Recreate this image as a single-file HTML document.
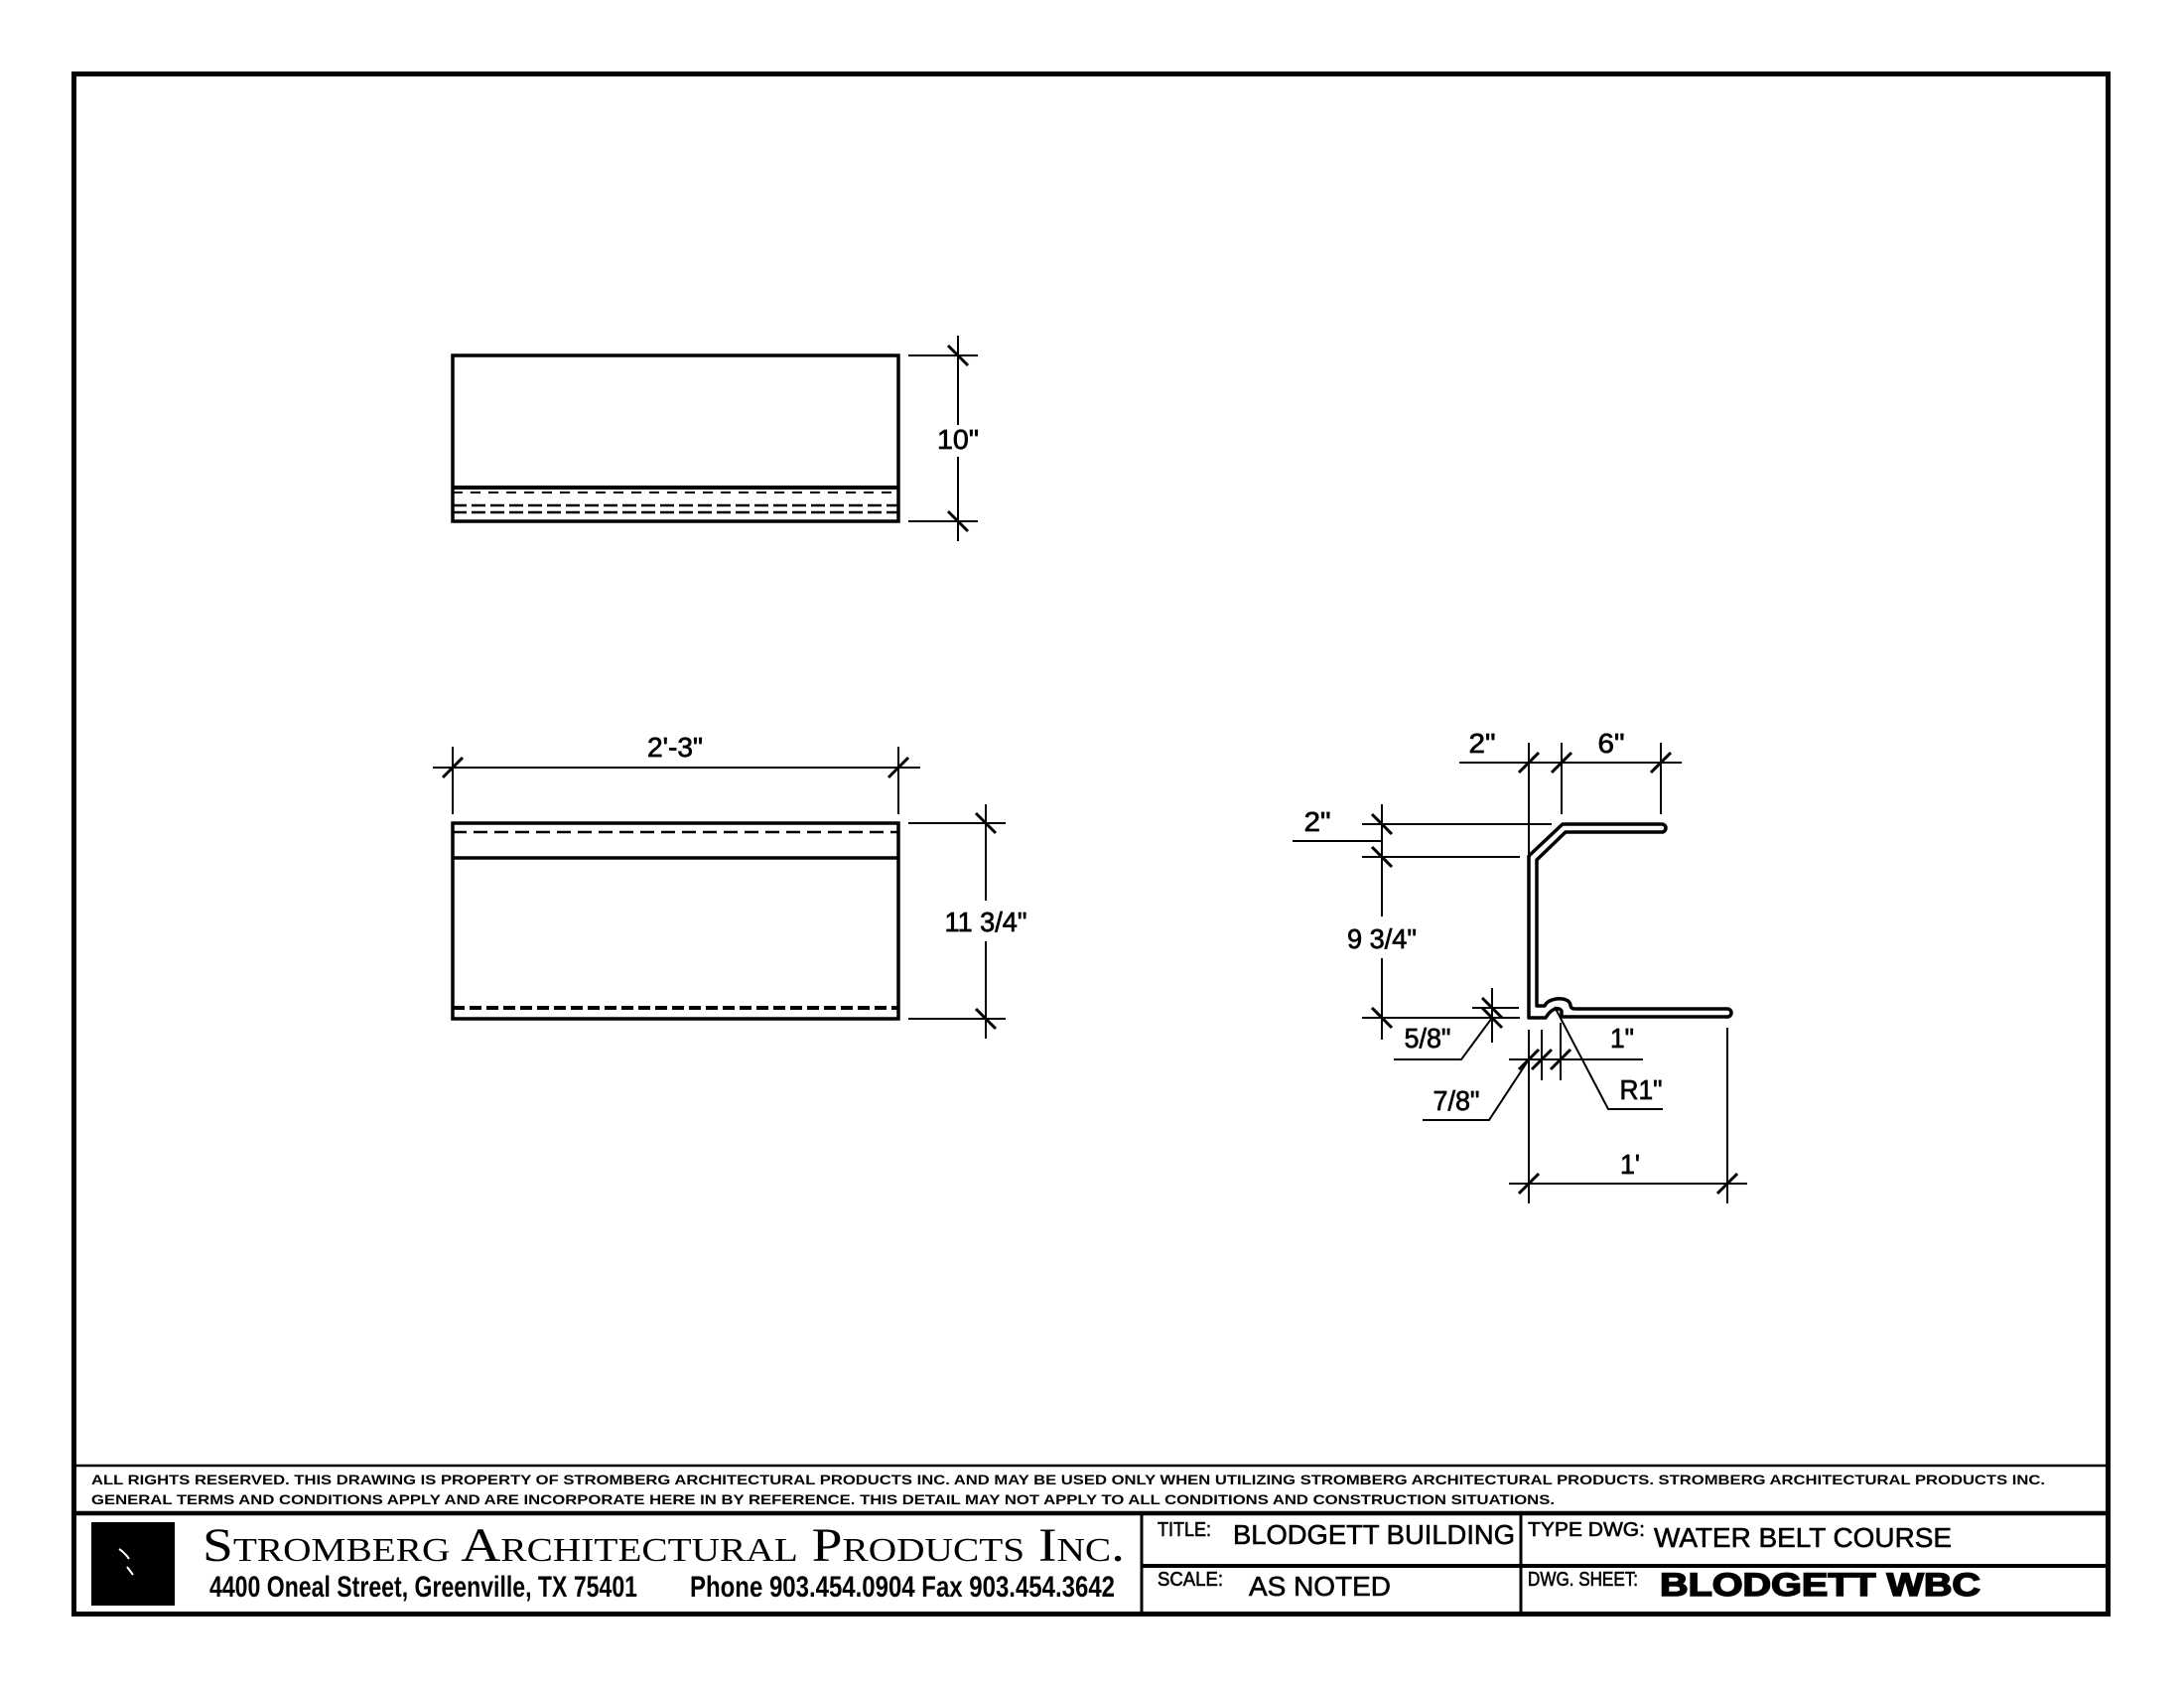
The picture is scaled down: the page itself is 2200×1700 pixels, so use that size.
<!DOCTYPE html>
<html><head><meta charset="utf-8"><style>html,body{margin:0;padding:0;background:#fff}svg{display:block}</style></head>
<body>
<svg width="2200" height="1700" viewBox="0 0 2200 1700" xmlns="http://www.w3.org/2000/svg" font-family="Liberation Sans, Arial, sans-serif">
<rect x="0" y="0" width="2200" height="1700" fill="#fff"/>
<rect x="74.5" y="74.5" width="2049" height="1551" fill="none" stroke="#000" stroke-width="5"/>

<g stroke="#000" fill="none" stroke-linecap="butt">
<rect x="456" y="358" width="449" height="167" stroke-width="3.5"/>
<line x1="456" y1="491" x2="905" y2="491" stroke-width="4"/>
<line x1="456" y1="496" x2="905" y2="496" stroke-width="2" stroke-dasharray="10,8"/>
<line x1="456" y1="509" x2="905" y2="509" stroke-width="2.5" stroke-dasharray="14,5"/>
<line x1="456" y1="516" x2="905" y2="516" stroke-width="2.5" stroke-dasharray="14,5"/>
<line x1="915" y1="358" x2="985" y2="358" stroke-width="2"/>
<line x1="915" y1="525" x2="985" y2="525" stroke-width="2"/>
<line x1="965" y1="338" x2="965" y2="428" stroke-width="2"/>
<line x1="965" y1="460" x2="965" y2="545" stroke-width="2"/>
<line x1="955" y1="348" x2="975" y2="368" stroke-width="3"/>
<line x1="955" y1="515" x2="975" y2="535" stroke-width="3"/>

<rect x="456" y="829" width="449" height="197" stroke-width="3.5"/>
<line x1="456" y1="838" x2="905" y2="838" stroke-width="2.5" stroke-dasharray="14,7"/>
<line x1="456" y1="864" x2="905" y2="864" stroke-width="3.5"/>
<line x1="456" y1="1015" x2="905" y2="1015" stroke-width="4" stroke-dasharray="12,5"/>
<line x1="436" y1="773" x2="927" y2="773" stroke-width="2"/>
<line x1="456" y1="752" x2="456" y2="820" stroke-width="2"/>
<line x1="905" y1="752" x2="905" y2="820" stroke-width="2"/>
<line x1="446" y1="783" x2="466" y2="763" stroke-width="3"/>
<line x1="895" y1="783" x2="915" y2="763" stroke-width="3"/>
<line x1="915" y1="829" x2="1013" y2="829" stroke-width="2"/>
<line x1="915" y1="1026" x2="1013" y2="1026" stroke-width="2"/>
<line x1="993" y1="810" x2="993" y2="907" stroke-width="2"/>
<line x1="993" y1="948" x2="993" y2="1046" stroke-width="2"/>
<line x1="983" y1="819" x2="1003" y2="839" stroke-width="3"/>
<line x1="983" y1="1016" x2="1003" y2="1036" stroke-width="3"/>

<path d="M1540,1025 V862 L1574,830 H1674 A4,4 0 0 1 1674,838 H1577 L1548,866 V1013 H1556 C1558,1008 1566,1005 1574,1006 C1580,1007 1582,1010 1582,1013 C1583,1016 1585,1016 1588,1016 H1740 A4,4 0 0 1 1740,1024 H1573 L1573,1018 C1570,1014 1563,1015 1557,1025 Z" stroke-width="3.5" stroke-linejoin="round"/>
<line x1="1470" y1="768" x2="1694" y2="768" stroke-width="2"/>
<line x1="1540" y1="748" x2="1540" y2="860" stroke-width="2"/>
<line x1="1573" y1="748" x2="1573" y2="820" stroke-width="2"/>
<line x1="1673" y1="748" x2="1673" y2="820" stroke-width="2"/>
<line x1="1530" y1="778" x2="1550" y2="758" stroke-width="3"/>
<line x1="1563" y1="778" x2="1583" y2="758" stroke-width="3"/>
<line x1="1663" y1="778" x2="1683" y2="758" stroke-width="3"/>
<line x1="1392" y1="810" x2="1392" y2="923" stroke-width="2"/>
<line x1="1392" y1="965" x2="1392" y2="1047" stroke-width="2"/>
<line x1="1372" y1="830" x2="1563" y2="830" stroke-width="2"/>
<line x1="1372" y1="863" x2="1531" y2="863" stroke-width="2"/>
<line x1="1372" y1="1025" x2="1531" y2="1025" stroke-width="2"/>
<line x1="1302" y1="847" x2="1392" y2="847" stroke-width="2"/>
<line x1="1382" y1="820" x2="1402" y2="840" stroke-width="3"/>
<line x1="1382" y1="853" x2="1402" y2="873" stroke-width="3"/>
<line x1="1382" y1="1015" x2="1402" y2="1035" stroke-width="3"/>
<line x1="1483" y1="1015" x2="1530" y2="1015" stroke-width="2"/>
<line x1="1503" y1="995" x2="1503" y2="1050" stroke-width="2"/>
<line x1="1493" y1="1005" x2="1513" y2="1025" stroke-width="3"/>
<line x1="1493" y1="1015" x2="1513" y2="1035" stroke-width="3"/>
<polyline points="1503,1025 1472,1067 1404,1067" stroke-width="2"/>
<line x1="1520" y1="1067" x2="1655" y2="1067" stroke-width="2"/>
<line x1="1540" y1="1037" x2="1540" y2="1212" stroke-width="2"/>
<line x1="1553" y1="1037" x2="1553" y2="1088" stroke-width="2"/>
<line x1="1572" y1="1030" x2="1572" y2="1088" stroke-width="2"/>
<line x1="1530" y1="1077" x2="1550" y2="1057" stroke-width="3"/>
<line x1="1543" y1="1077" x2="1563" y2="1057" stroke-width="3"/>
<line x1="1562" y1="1077" x2="1582" y2="1057" stroke-width="3"/>
<polyline points="1540,1067 1500,1128 1433,1128" stroke-width="2"/>
<polyline points="1566,1014 1620,1117 1675,1117" stroke-width="2"/>
<line x1="1520" y1="1192" x2="1760" y2="1192" stroke-width="2"/>
<line x1="1740" y1="1035" x2="1740" y2="1212" stroke-width="2"/>
<line x1="1530" y1="1202" x2="1550" y2="1182" stroke-width="3"/>
<line x1="1730" y1="1202" x2="1750" y2="1182" stroke-width="3"/>

<line x1="74" y1="1476" x2="2124" y2="1476" stroke-width="2.5"/>
<line x1="74" y1="1524" x2="2124" y2="1524" stroke-width="4.5"/>
<line x1="1150" y1="1524" x2="1150" y2="1625" stroke-width="3"/>
<line x1="1532" y1="1524" x2="1532" y2="1625" stroke-width="3"/>
<line x1="1150" y1="1577" x2="2124" y2="1577" stroke-width="4"/>
</g>
<rect x="92" y="1533" width="84" height="84" fill="#000"/>
<path d="M120,1560 q6,4 10,10 M128,1578 l6,8" stroke="#fff" stroke-width="2" fill="none"/>

<g fill="#000" stroke="#000" stroke-width="0.7" font-size="28" text-anchor="middle">
<text x="965" y="452" textLength="42" lengthAdjust="spacingAndGlyphs">10"</text>
<text x="680" y="762" textLength="56" lengthAdjust="spacingAndGlyphs">2'-3"</text>
<text x="993" y="938" textLength="83" lengthAdjust="spacingAndGlyphs">11 3/4"</text>
<text x="1493" y="758" textLength="27" lengthAdjust="spacingAndGlyphs">2"</text>
<text x="1623" y="758" textLength="27" lengthAdjust="spacingAndGlyphs">6"</text>
<text x="1327" y="837" textLength="27" lengthAdjust="spacingAndGlyphs">2"</text>
<text x="1392" y="955" textLength="70" lengthAdjust="spacingAndGlyphs">9 3/4"</text>
<text x="1438" y="1055" textLength="47" lengthAdjust="spacingAndGlyphs">5/8"</text>
<text x="1634" y="1055" textLength="24" lengthAdjust="spacingAndGlyphs">1"</text>
<text x="1467" y="1118" textLength="47" lengthAdjust="spacingAndGlyphs">7/8"</text>
<text x="1653" y="1107" textLength="43" lengthAdjust="spacingAndGlyphs">R1"</text>
<text x="1642" y="1182" textLength="20" lengthAdjust="spacingAndGlyphs">1'</text>
</g>

<g fill="#000" font-weight="bold" font-size="14">
<text x="92" y="1495" textLength="1968" lengthAdjust="spacingAndGlyphs">ALL RIGHTS RESERVED. THIS DRAWING IS PROPERTY OF STROMBERG ARCHITECTURAL PRODUCTS INC. AND MAY BE USED ONLY WHEN UTILIZING STROMBERG ARCHITECTURAL PRODUCTS.  STROMBERG ARCHITECTURAL PRODUCTS INC.</text>
<text x="92" y="1515" textLength="1474" lengthAdjust="spacingAndGlyphs">GENERAL TERMS AND CONDITIONS APPLY AND ARE INCORPORATE HERE IN BY REFERENCE.  THIS DETAIL MAY NOT APPLY TO ALL CONDITIONS AND CONSTRUCTION SITUATIONS.</text>
</g>
<text x="204" y="1572" font-family="Liberation Serif, serif" font-size="48" font-variant="small-caps" textLength="929" lengthAdjust="spacingAndGlyphs">Stromberg Architectural Products Inc.</text>
<g font-weight="bold" font-size="30">
<text x="211" y="1608" textLength="431" lengthAdjust="spacingAndGlyphs">4400 Oneal Street, Greenville, TX  75401</text>
<text x="695" y="1608" textLength="428" lengthAdjust="spacingAndGlyphs">Phone 903.454.0904   Fax 903.454.3642</text>
</g>
<g fill="#000" stroke="#000" stroke-width="0.6">
<text x="1166" y="1547" font-size="20" textLength="54" lengthAdjust="spacingAndGlyphs">TITLE:</text>
<text x="1242" y="1555" font-size="28" textLength="284" lengthAdjust="spacingAndGlyphs">BLODGETT BUILDING</text>
<text x="1539" y="1547" font-size="20" textLength="118" lengthAdjust="spacingAndGlyphs">TYPE DWG:</text>
<text x="1666" y="1558" font-size="28" textLength="300" lengthAdjust="spacingAndGlyphs">WATER BELT COURSE</text>
<text x="1166" y="1597" font-size="20" textLength="66" lengthAdjust="spacingAndGlyphs">SCALE:</text>
<text x="1258" y="1607" font-size="28" textLength="143" lengthAdjust="spacingAndGlyphs">AS NOTED</text>
<text x="1539" y="1597" font-size="20" textLength="111" lengthAdjust="spacingAndGlyphs">DWG. SHEET:</text>
<text x="1672" y="1607" font-size="32" font-weight="bold" stroke-width="1.5" textLength="323" lengthAdjust="spacingAndGlyphs">BLODGETT WBC</text>
</g>
</svg>
</body></html>
